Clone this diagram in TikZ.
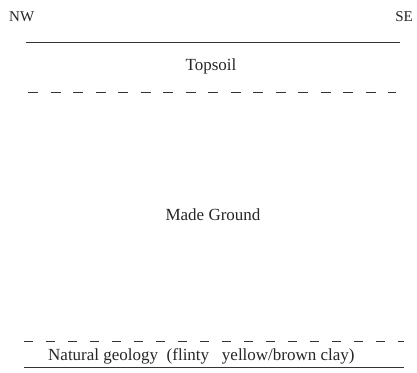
\documentclass[tikz,border=0pt]{standalone}
\usepackage{fontspec}
\setmainfont{Liberation Serif}
\begin{document}
\begin{tikzpicture}[x=1pt,y=-1pt,
  lbl/.style={inner sep=0pt,font=\fontsize{17}{20}\selectfont,text=black!85},
  smalllbl/.style={lbl,font=\fontsize{15}{18}\selectfont},
  solidline/.style={line width=0.9pt,black!80},
  dashline/.style={line width=0.9pt,black!80,dash pattern=on 10pt off 12.5pt}]
\useasboundingbox (0,0) rectangle (417,372);
\node[smalllbl,anchor=west] (nw) at (9,17) {NW};
\node[smalllbl,anchor=east] (se) at (413,17) {SE};
\coordinate (t1) at (26,42); \coordinate (t2) at (400,42);
\draw[solidline] (t1) -- (t2);
\node[lbl] (top) at (211,66) {Topsoil};
\coordinate (d1) at (28,92); \coordinate (d2) at (396,92);
\draw[dashline] (d1) -- (d2);
\node[lbl] (made) at (213,215) {Made Ground};
\coordinate (e1) at (24,341); \coordinate (e2) at (404,341);
\draw[dashline,dash pattern=on 9pt off 13pt] (e1) -- (e2);
\node[lbl,anchor=west] (nat) at (48,356) {Natural geology\ \ (flinty\ \ \ yellow/brown clay)};
\coordinate (b1) at (24,367); \coordinate (b2) at (404,367);
\draw[solidline] (b1) -- (b2);
\end{tikzpicture}
\end{document}
